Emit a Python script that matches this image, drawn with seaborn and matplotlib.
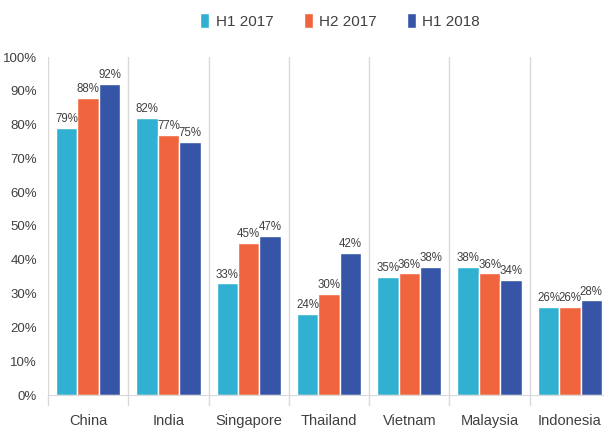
import pandas as pd
import matplotlib.pyplot as plt
import seaborn as sns

countries = ['China', 'India', 'Singapore', 'Thailand', 'Vietnam', 'Malaysia', 'Indonesia']
periods = ['H1 2017', 'H2 2017', 'H1 2018']
h1_2017 = [79, 82, 33, 24, 35, 38, 26]
h2_2017 = [88, 77, 45, 30, 36, 36, 26]
h1_2018 = [92, 75, 47, 42, 38, 34, 28]
colors = ['#31B1D1', '#F0653E', '#3655A6']

df = pd.DataFrame({
    'Country': countries * 3,
    'Period': [p for p in periods for _ in countries],
    'Value': h1_2017 + h2_2017 + h1_2018,
})

sns.set_style('white')
plt.rcParams['font.family'] = ['Liberation Sans', 'DejaVu Sans']
text_col = '#404040'

fig = plt.figure(figsize=(6.04, 4.37), dpi=100)
ax = fig.add_axes([48 / 604, 1 - 395 / 437, 562 / 604, 338 / 437])

sns.barplot(data=df, x='Country', y='Value', hue='Period', palette=colors,
            saturation=1, edgecolor='white', linewidth=1, width=0.8, ax=ax, legend=True)

for cont in ax.containers:
    ax.bar_label(cont, labels=[f'{v:.0f}%' for v in cont.datavalues],
                 padding=2, fontsize=8.3, color=text_col)

ax.set_xlim(-0.5, 6.5)
ax.set_ylim(0, 100)
ax.set_yticks(range(0, 101, 10))
ax.set_yticklabels([f'{v}%' for v in range(0, 101, 10)], fontsize=9.5, color=text_col)
ax.tick_params(axis='x', labelsize=10.5, colors=text_col, length=0, pad=14)
ax.tick_params(axis='y', length=0, pad=8)
ax.set_xlabel('')
ax.set_ylabel('')

# vertical separators between categories
for x in [i - 0.5 for i in range(len(countries))]:
    ax.axvline(x, color='#D9D9D9', lw=1, zorder=0)
    ax.plot([x, x], [0, -3], color='#D9D9D9', lw=1, clip_on=False)

for s in ['top', 'right', 'left']:
    ax.spines[s].set_visible(False)
ax.spines['bottom'].set_color('#D9D9D9')

leg = ax.legend(loc='upper center', bbox_to_anchor=(0.52, 1.17), ncol=3, frameon=False,
                fontsize=11, handlelength=0.6, handleheight=1.1, columnspacing=2.0,
                handletextpad=0.4)
for t in leg.get_texts():
    t.set_color(text_col)

fig.savefig('out.png', dpi=100)
